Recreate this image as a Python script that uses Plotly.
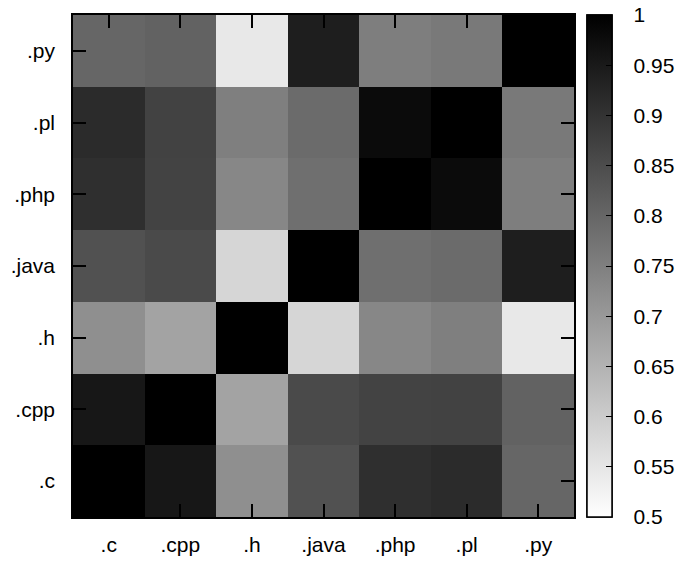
import plotly.graph_objects as go

# Categories (x: left->right, y: bottom->top)
exts = [".c", ".cpp", ".h", ".java", ".php", ".pl", ".py"]

# Similarity rows (row = y category, bottom .c to top .py), columns follow exts
row_c    = [1.000, 0.955, 0.720, 0.841, 0.908, 0.916, 0.800]
row_cpp  = [0.955, 1.000, 0.680, 0.855, 0.869, 0.871, 0.808]
row_h    = [0.720, 0.680, 1.000, 0.580, 0.735, 0.751, 0.545]
row_java = [0.841, 0.855, 0.580, 1.000, 0.782, 0.790, 0.941]
row_php  = [0.908, 0.869, 0.735, 0.782, 1.000, 0.978, 0.752]
row_pl   = [0.916, 0.871, 0.751, 0.790, 0.978, 1.000, 0.762]
row_py   = [0.800, 0.808, 0.545, 0.941, 0.752, 0.762, 1.000]

cb_ticks = [0.5, 0.55, 0.6, 0.65, 0.7, 0.75, 0.8, 0.85, 0.9, 0.95, 1.0]
cb_labels = ["0.5", "0.55", "0.6", "0.65", "0.7", "0.75", "0.8", "0.85", "0.9", "0.95", "1"]

z = [row_c, row_cpp, row_h, row_java, row_php, row_pl, row_py]

FONT = "Liberation Sans, Arial, sans-serif"
FS = 21
W, H = 679, 564
L, R, T, B = 73, 105, 15, 47
plot_w = W - L - R
GRAY = [[0, "#ffffff"], [1, "#000000"]]

cb_base = dict(
    x=(587 - L) / plot_w, xanchor="left", xpad=0,
    y=0.5, yanchor="middle", ypad=0,
    len=1.0, lenmode="fraction",
    thickness=25, thicknessmode="pixels",
    outlinewidth=1.5, outlinecolor="black",
    tickmode="array", tickvals=cb_ticks, ticktext=cb_labels,
    tickfont=dict(family=FONT, size=FS, color="black"),
)

fig = go.Figure(go.Heatmap(
    x=exts, y=exts, z=z,
    zmin=0.5, zmax=1.0,
    colorscale=GRAY,
    xgap=0, ygap=0,
    colorbar=dict(**cb_base, ticks="outside", ticklen=17,
                  tickcolor="rgba(0,0,0,0)"),
    hoverinfo="x+y+z",
))

# Second colorbar (no visible points) that only draws the inside tick dashes
fig.add_trace(go.Scatter(
    x=[None], y=[None], mode="markers", hoverinfo="skip",
    marker=dict(color=[0.5], cmin=0.5, cmax=1.0, colorscale=GRAY,
                showscale=True,
                colorbar=dict(**cb_base, ticks="inside", ticklen=6,
                              tickwidth=1, tickcolor="black",
                              showticklabels=False)),
))

axis_common = dict(
    type="category", automargin=False,
    showline=True, linewidth=1.5, linecolor="black", mirror="ticks",
    ticks="inside", ticklen=13, tickwidth=1.5, tickcolor="black",
    showgrid=False, zeroline=False,
    tickfont=dict(family=FONT, size=FS, color="black"),
)

fig.update_xaxes(**axis_common, ticklabelstandoff=8, categoryorder="array", categoryarray=exts)
fig.update_yaxes(**axis_common, ticklabelstandoff=12, categoryorder="array", categoryarray=exts)

fig.update_layout(
    width=W, height=H,
    margin=dict(l=L, r=R, t=T, b=B, pad=0, autoexpand=False),
    paper_bgcolor="white", plot_bgcolor="white",
    font=dict(family=FONT, size=FS, color="black"),
    showlegend=False,
)

fig.write_html("out.html")
